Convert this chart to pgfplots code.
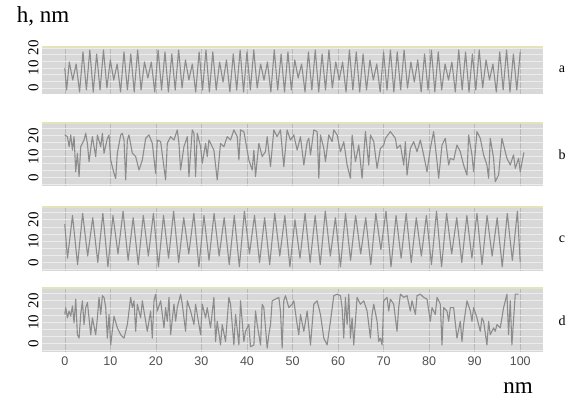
\documentclass[border=0pt]{standalone}
\usepackage{fontspec}
\setmainfont{Liberation Serif}
\newfontfamily\sansx{Liberation Sans}
\usepackage{pgfplots}
\usepackage{pgfplotstable}
\pgfplotsset{compat=1.18}
\definecolor{bg}{RGB}{216,216,216}
\definecolor{hg}{RGB}{236,236,236}
\definecolor{vg}{RGB}{185,185,185}
\definecolor{ln}{RGB}{140,140,140}
\definecolor{tp}{RGB}{228,228,188}
\definecolor{tk}{RGB}{80,80,80}

\pgfplotstableread{
x y
0 10
0.4 -1
1.0 13
1.75 4
2.5 12
3.25 -2
4.0 18
4.75 -1
5.5 19
6.25 -2
7.0 17
7.75 -1
8.5 19
9.25 0
10.0 14
10.75 4
11.5 12
12.25 -2
13.0 18
13.75 -1
14.5 17
15.25 -2
16.0 19
16.75 -1
17.5 13
18.25 5
19.0 13
19.75 -2
20.5 19
21.25 -1
22.0 18
22.75 -2
23.5 17
24.25 -1
25.0 19
25.75 0
26.5 14
27.25 4
28.0 12
28.75 -2
29.5 18
30.25 -1
31.0 19
31.75 -2
32.5 18
33.25 -1
34.0 13
34.75 3
35.5 14
36.25 -2
37.0 17
37.75 -1
38.5 19
39.25 -2
40.0 18
40.75 -1
41.5 19
42.25 0
43.0 12
43.75 4
44.5 13
45.25 -2
46.0 19
46.75 -1
47.5 17
48.25 -2
49.0 18
49.75 -1
50.5 14
51.25 5
52.0 12
52.75 -2
53.5 18
54.25 -1
55.0 19
55.75 -2
56.5 17
57.25 -1
58.0 19
58.75 0
59.5 13
60.25 4
61.0 13
61.75 -2
62.5 19
63.25 -1
64.0 18
64.75 -2
65.5 17
66.25 -1
67.0 14
67.75 4
68.5 12
69.25 -2
70.0 18
70.75 -1
71.5 19
72.25 -2
73.0 18
73.75 -1
74.5 19
75.25 0
76.0 13
76.75 3
77.5 14
78.25 -2
79.0 17
79.75 -1
80.5 19
81.25 -2
82.0 18
82.75 -1
83.5 12
84.25 4
85.0 13
85.75 -2
86.5 19
87.25 -1
88.0 18
88.75 -2
89.5 17
90.25 -1
91.0 19
91.75 0
92.5 14
93.25 4
94.0 12
94.75 -2
95.5 18
96.25 -1
97.0 19
97.75 -2
98.5 17
99.25 -1
100.0 18
}\dataa

\pgfplotstableread{
x y
0 20.3
0.58 19.5
0.95 14.7
1.31 20.3
1.68 13.1
2.04 19.5
2.41 2.8
2.77 11.6
3.14 0.5
3.50 14.7
4.23 17.9
4.60 21.1
4.97 16.3
5.33 7.6
6.06 19.5
6.79 10.0
7.16 20.3
7.89 14.7
8.26 21.1
8.62 11.6
9.35 18.7
9.72 20.3
10.08 8.4
10.81 2.0
11.18 -0.4
11.54 11.6
12.28 20.3
12.64 21.1
13.01 17.9
13.37 -1.1
13.74 17.9
14.10 20.3
14.83 11.6
15.57 10.0
16.30 3.6
17.03 8.4
17.76 18.7
18.49 20.3
19.22 16.3
19.95 2.0
20.32 17.9
21.05 17.1
22.14 -1.1
22.51 16.3
23.24 19.5
23.97 17.9
24.70 22.7
25.07 16.3
25.43 3.6
26.16 14.7
26.90 19.5
27.26 0.5
27.99 22.7
28.36 21.1
28.72 0.5
29.09 21.1
29.82 14.7
30.19 6.8
30.92 16.3
31.28 10.0
31.65 17.9
32.74 13.1
33.47 -1.1
34.20 16.3
34.94 14.7
35.67 19.5
36.40 17.9
37.13 22.7
37.86 19.5
38.23 8.4
38.59 22.7
39.32 21.9
40.42 8.4
41.15 3.6
41.52 13.1
41.88 0.5
42.61 16.3
43.34 10.0
44.07 12.4
44.44 19.5
45.17 5.2
45.90 22.7
46.63 19.5
47.36 22.7
48.09 5.2
48.82 22.7
49.56 17.9
50.29 20.3
51.02 13.1
51.75 19.5
52.49 6.0
53.22 17.1
53.58 18.7
53.95 10.8
54.68 22.7
55.41 21.9
55.78 -0.3
56.14 20.3
56.87 13.9
57.24 7.6
57.97 20.3
58.70 17.1
59.07 22.7
59.80 20.3
60.53 12.3
61.26 17.1
61.99 6.0
62.72 -0.3
63.09 20.3
63.82 7.6
64.55 15.5
65.28 -0.3
66.01 21.9
66.74 6.0
67.11 20.3
67.84 17.1
68.57 4.4
69.30 13.9
70.03 15.5
70.40 18.7
71.49 21.9
72.59 18.7
72.95 13.9
73.69 15.5
74.42 6.0
74.78 17.1
75.15 1.2
75.88 13.9
76.61 17.1
77.34 12.3
78.07 17.9
78.80 10.8
79.53 2.8
80.26 13.9
80.99 21.9
81.73 7.6
82.09 -0.3
82.82 15.5
83.55 18.7
84.29 6.0
84.65 9.2
85.38 8.4
86.11 15.5
86.84 12.3
87.57 6.0
88.31 1.2
88.67 20.3
89.40 10.8
89.77 2.8
90.50 21.9
91.23 18.7
91.96 10.8
92.69 6.0
93.06 -0.3
93.42 18.7
94.15 9.2
94.52 -1.9
95.25 1.2
95.98 18.7
96.35 15.5
97.08 9.2
97.81 6.0
98.54 10.8
98.91 4.4
99.64 9.2
100.0 2.8
100.8 12.0
}\datab

\pgfplotstableread{
x y
0 18
0.6 2
1.70 22
2.81 -1
3.92 23
5.03 3
6.14 21
7.25 0
8.36 23
9.47 -2
10.58 22
11.69 4
12.80 24
13.91 1
15.02 21
16.13 -1
17.24 22
18.35 3
19.46 23
20.57 -2
21.68 22
22.79 2
23.90 24
25.01 0
26.12 21
27.23 4
28.34 23
29.45 -2
30.56 22
31.67 1
32.78 23
33.89 3
35.00 21
36.11 -1
37.22 22
38.33 -2
39.44 24
40.55 4
41.66 22
42.77 0
43.88 21
44.99 -1
46.10 23
47.21 3
48.32 22
49.43 -2
50.54 20
51.65 2
52.76 23
53.87 0
54.98 22
56.09 -1
57.20 24
58.31 3
59.42 21
60.53 -2
61.64 23
62.75 1
63.86 22
64.97 4
66.08 21
67.19 -1
68.30 23
69.41 6
70.52 24
71.63 -2
72.74 22
73.85 2
74.96 23
76.07 0
77.18 21
78.29 3
79.40 22
80.51 -1
81.62 24
82.73 -2
83.84 23
84.95 4
86.06 21
87.17 0
88.28 22
89.39 2
90.50 23
91.61 -1
92.72 22
93.83 3
94.94 21
96.05 -2
97.16 23
98.27 1
99.38 24
100.0 0
}\datac

\pgfplotstableread{
x y
0 13.6
0.21 16.8
0.58 12.0
0.95 15.2
1.31 12.8
1.68 17.6
2.04 9.7
2.41 20.8
2.77 4.1
3.14 2.5
3.50 13.6
3.87 20.0
4.23 8.9
4.60 16.8
4.97 19.2
5.70 4.1
6.06 12.0
6.79 4.1
7.16 12.0
7.52 21.6
7.89 13.6
8.26 22.4
8.62 21.6
8.99 16.8
9.35 2.5
9.72 13.6
10.08 -0.7
10.81 12.8
11.54 7.3
12.28 4.1
13.01 2.5
13.74 8.9
14.47 21.6
14.83 16.8
15.20 20.0
15.57 5.7
15.93 18.4
16.66 12.0
17.03 20.0
17.39 15.2
18.12 5.7
18.85 15.2
19.22 2.5
19.59 20.0
19.95 23.1
20.32 15.2
21.05 20.0
21.78 7.3
22.14 16.8
22.51 10.4
22.88 21.6
23.24 4.1
23.97 18.4
24.34 10.4
24.70 16.8
25.43 23.1
25.80 18.4
26.53 5.7
26.90 20.0
27.63 15.2
28.36 8.9
28.72 18.4
29.45 8.9
29.82 4.1
30.19 18.4
30.92 12.0
31.28 16.8
32.01 7.3
32.74 21.6
33.11 0.9
33.47 10.4
34.20 -0.7
34.57 8.9
35.30 0.9
36.03 21.6
36.40 18.4
37.13 -0.7
37.50 13.6
38.23 -0.7
38.59 20.0
39.32 0.9
39.69 5.7
40.42 8.9
40.78 -1.5
41.52 -0.7
41.88 15.2
42.25 8.9
42.98 -0.7
43.34 18.4
43.71 16.8
44.44 -2.2
44.80 4.1
45.17 8.9
45.54 20.0
46.27 20.8
47.00 21.6
47.36 15.2
47.73 -2.2
48.09 20.0
48.46 22.4
49.19 16.8
49.92 18.4
50.29 20.0
51.02 8.9
51.38 4.1
51.75 13.6
52.49 5.7
53.22 15.2
53.95 -0.7
54.68 18.4
55.41 20.0
56.14 13.6
56.87 2.5
57.60 -0.7
58.33 10.4
59.07 22.4
59.80 23.1
60.53 22.4
60.89 16.8
61.26 2.5
61.62 21.6
61.99 8.9
62.36 23.1
62.72 2.5
63.09 12.0
63.45 -0.7
64.18 21.6
64.91 18.4
65.64 20.0
66.38 15.2
67.11 2.5
67.47 13.6
67.84 18.4
68.57 10.4
68.93 0.9
69.30 2.5
69.67 -0.7
70.03 20.0
70.76 21.6
71.13 15.2
71.49 20.8
72.22 18.4
72.95 5.7
73.32 16.8
73.69 23.1
74.42 21.6
75.15 22.4
75.88 15.2
76.24 20.0
76.98 13.6
77.34 22.4
78.07 23.1
78.80 21.6
79.53 20.8
80.26 10.4
80.63 16.8
81.36 13.6
81.73 21.6
82.46 18.4
82.82 -0.7
83.19 16.8
83.92 15.2
84.29 10.4
84.65 16.8
85.38 16.8
86.11 2.5
86.84 10.4
87.21 0.9
87.57 8.9
88.31 20.0
89.04 15.2
89.40 10.4
89.77 16.8
90.50 12.0
91.23 5.7
91.60 12.0
91.96 10.4
92.69 -0.7
93.06 10.4
93.42 4.1
94.15 7.3
94.52 5.7
94.89 8.9
95.62 7.3
96.35 16.8
97.08 23.1
97.44 4.1
97.81 20.0
98.17 -0.7
98.91 23.1
99.64 23.1
}\datad

\pgfplotsset{panel/.style={
  scale only axis, width=501pt,
  xmin=-5, xmax=105,
  axis line style={draw=none},
  axis background/.style={fill=bg},
  major tick length=0pt, minor tick length=0pt,
  xtick={0,10,...,100},
  xmajorgrids,
  x grid style={vg, line width=0.5pt},
  ytick={0,10,20},
  minor ytick={-3.333,3.333,6.667,13.333,16.667,23.333},
  ymajorgrids, yminorgrids,
  y grid style={hg, line width=0.6pt},
  yticklabel style={rotate=90, anchor=south, font=\fontsize{15}{15}\selectfont, text=black},
  /pgf/number format/assume math mode=true,
}}

\begin{document}
\begin{tikzpicture}
\path[use as bounding box] (0,0) rectangle (579pt,398pt);

\begin{axis}[panel, at={(42pt,304pt)}, anchor=south west, height=47pt,
  ymin=-3, ymax=20.5, xticklabels={}]
\addplot[ln, line width=1.1pt, line join=round, mark=none] table[x=x,y=y] {\dataa};
\draw[tp, line width=1.2pt] (rel axis cs:0,1) -- (rel axis cs:1,1);
\end{axis}

\begin{axis}[panel, at={(42pt,212pt)}, anchor=south west, height=63pt,
  ymin=-4, ymax=26, xticklabels={}]
\addplot[ln, line width=1.1pt, line join=round, mark=none] table[x=x,y=y] {\datab};
\draw[tp, line width=1.2pt] (rel axis cs:0,1) -- (rel axis cs:1,1);
\end{axis}

\begin{axis}[panel, at={(42pt,127pt)}, anchor=south west, height=64pt,
  ymin=-4, ymax=26, xticklabels={}]
\addplot[ln, line width=1.1pt, line join=round, mark=none] table[x=x,y=y] {\datac};
\draw[tp, line width=1.2pt] (rel axis cs:0,1) -- (rel axis cs:1,1);
\end{axis}

\begin{axis}[panel, at={(42pt,46pt)}, anchor=south west, height=64pt,
  ymin=-4, ymax=26,
  xticklabel style={font=\sansx\fontsize{12.5}{13}\selectfont, text=tk, yshift=-1pt}]
\addplot[ln, line width=1.1pt, line join=round, mark=none] table[x=x,y=y] {\datad};
\draw[tp, line width=1.2pt] (rel axis cs:0,1) -- (rel axis cs:1,1);
\end{axis}

\node[font=\fontsize{14}{14}\selectfont] at (562pt,329pt) {a};
\node[font=\fontsize{14}{14}\selectfont] at (562pt,243pt) {b};
\node[font=\fontsize{14}{14}\selectfont] at (562pt,159pt) {c};
\node[font=\fontsize{14}{14}\selectfont] at (562pt,77pt) {d};
\node[font=\fontsize{23}{23}\selectfont] at (43pt,382pt) {h, nm};
\node[font=\fontsize{23}{23}\selectfont] at (518pt,10pt) {nm};
\end{tikzpicture}
\end{document}
